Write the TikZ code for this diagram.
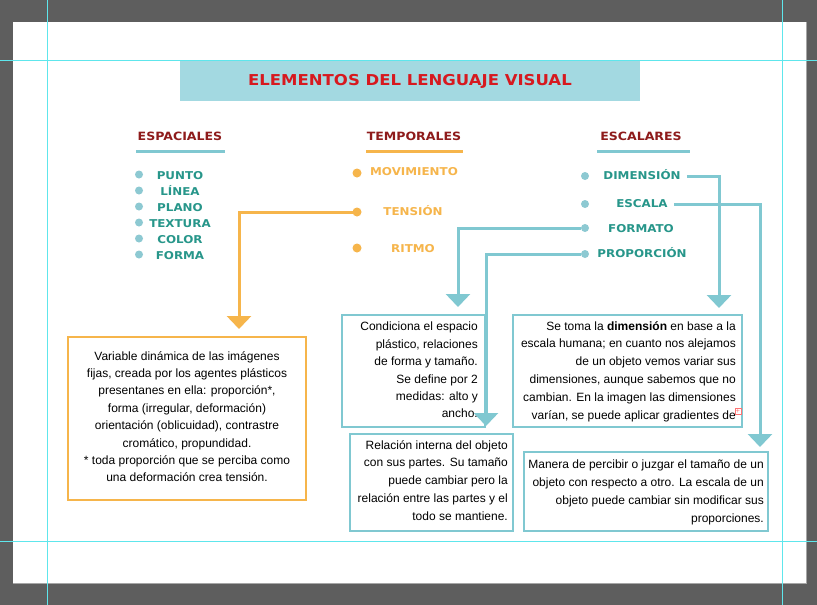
\documentclass[tikz,border=0pt]{standalone}
\usepackage{fontspec}
\setmainfont{Liberation Sans}
\newfontfamily\widebold{DejaVu Sans Bold}[FakeStretch=1.1]
\usetikzlibrary{arrows.meta}

\definecolor{deskgray}{HTML}{5E5E5E}
\definecolor{titlefill}{HTML}{A3D9E1}
\definecolor{titlered}{HTML}{D7191F}
\definecolor{headred}{HTML}{8E1B1B}
\definecolor{itemteal}{HTML}{27968A}
\definecolor{dotcyan}{HTML}{8DC9D2}
\definecolor{lineorange}{HTML}{F6B54B}
\definecolor{linecyan}{HTML}{80C8D1}
\definecolor{guidecyan}{HTML}{5EE6EC}

\begin{document}
\begin{tikzpicture}[x=1pt, y=-1pt,
        heading/.style={font=\widebold\fontsize{11.4}{12}\selectfont, text=headred, inner sep=0pt, text height=8.3pt, text depth=0pt},
        itemtext/.style={font=\widebold\fontsize{10.8}{12}\selectfont, inner sep=0pt, text height=7.9pt, text depth=0pt},
        cyandot/.style={circle, fill=dotcyan, inner sep=0pt, minimum size=8pt},
        orangedot/.style={circle, fill=lineorange, inner sep=0pt, minimum size=9pt},
        infobox/.style={draw=linecyan, line width=2pt, inner sep=0pt},
        infotext/.style={font=\fontsize{12}{17.8}\selectfont, align=right, inner sep=0pt, anchor=north east},
        cyanlink/.style={draw=linecyan, line width=3pt, -{Triangle[width=24pt,length=13pt]}},
        orangelink/.style={draw=lineorange, line width=3pt, -{Triangle[width=24pt,length=13pt]}}]

        \useasboundingbox (0,0) rectangle (817,605);

        % Desk and page
        \fill[deskgray] (0,0) rectangle (817,605);
        \fill[white] (13,22) rectangle (806,583);
        \draw[gray!70, line width=1pt] (13,583.5) -- (806.5,583.5) -- (806.5,22);

        % Title
        \node[fill=titlefill, minimum width=460pt, minimum height=41pt, inner sep=0pt,
              font=\widebold\fontsize{15}{16}\selectfont, text=titlered,
              text height=10.9pt, text depth=0pt] (title) at (410,80.5) {ELEMENTOS DEL LENGUAJE VISUAL};

        % Headings with their bars
        \node[heading] (espaciales) at (180,136) {ESPACIALES};
        \node[heading] (temporales) at (414,136) {TEMPORALES};
        \node[heading] (escalares) at (641,136) {ESCALARES};
        \draw[linecyan, line width=3pt] (136,151) -- (225,151);
        \draw[lineorange, line width=3pt] (366,151) -- (463,151);
        \draw[linecyan, line width=3pt] (597,151) -- (690,151);

        % Espaciales
        \foreach \word/\yy [count=\i] in {PUNTO/176, LÍNEA/192, PLANO/208, TEXTURA/224, COLOR/240, FORMA/256} {
            \node[cyandot] (espdot\i) at (139,\yy-1.5) {};
            \node[itemtext, text=itemteal] (esptxt\i) at (180,\yy) {\word};
        }

        % Temporales
        \node[orangedot] (movdot) at (357,173) {};
        \node[orangedot] (tensdot) at (357,212) {};
        \node[orangedot] (ritdot) at (357,248) {};
        \node[itemtext, text=lineorange] (movtxt) at (414,172) {MOVIMIENTO};
        \node[itemtext, text=lineorange] (tenstxt) at (413,212) {TENSIÓN};
        \node[itemtext, text=lineorange] (rittxt) at (413,249) {RITMO};

        % Escalares
        \node[cyandot] (dimdot) at (585,176) {};
        \node[cyandot] (escdot) at (585,204) {};
        \node[cyandot] (fmtdot) at (585,228) {};
        \node[cyandot] (propdot) at (585,254) {};
        \node[itemtext, text=itemteal] (dimtxt) at (642,176) {DIMENSIÓN};
        \node[itemtext, text=itemteal] (esctxt) at (642,204) {ESCALA};
        \node[itemtext, text=itemteal] (fmttxt) at (641,229) {FORMATO};
        \node[itemtext, text=itemteal] (proptxt) at (642,254) {PROPORCIÓN};

        % Boxes
        \node[draw=lineorange, line width=2pt, minimum width=238pt, minimum height=163pt, inner sep=0pt] (tensbox) at (187,418.5) {};
        \node[infobox, minimum width=143pt, minimum height=112pt] (fmtbox) at (413.5,371) {};
        \node[infobox, minimum width=163pt, minimum height=97pt] (propbox) at (431.5,482.5) {};
        \node[infobox, minimum width=229pt, minimum height=112pt] (dimbox) at (627.5,371) {};
        \node[infobox, minimum width=244pt, minimum height=79pt] (escbox) at (646,491.5) {};

        % Box texts
        \node[font=\fontsize{12}{17.4}\selectfont, align=center, inner sep=0pt, anchor=north] (tenstext)
            at ([yshift=-15pt]tensbox.north) {Variable dinámica de las imágenes\\ fijas, creada por los agentes plásticos\\ presentanes en ella: proporción*,\\ forma (irregular, deformación)\\ orientación (oblicuidad), contrastre\\ cromático, propundidad.\\ * toda proporción que se perciba como\\ una deformación crea tensión.};
        \node[infotext, font=\fontsize{12}{17.4}\selectfont] (fmttext) at ([xshift=-8pt,yshift=-8pt]fmtbox.north east)
            {Condiciona el espacio\\ plástico, relaciones\\ de forma y tamaño.\\ Se define por 2\\ medidas: alto y\\ ancho.};
        \node[infotext] (proptext) at ([xshift=-6pt,yshift=-7pt]propbox.north east)
            {Relación interna del objeto\\ con sus partes. Su tamaño\\ puede cambiar pero la\\ relación entre las partes y el\\ todo se mantiene.};
        \node[infotext] (dimtext) at ([xshift=-7pt,yshift=-7pt]dimbox.north east)
            {Se toma la \textbf{dimensión} en base a la\\ escala humana; en cuanto nos alejamos\\ de un objeto vemos variar sus\\ dimensiones, aunque sabemos que no\\ cambian. En la imagen las dimensiones\\ varían, se puede aplicar gradientes de};
        \node[infotext] (esctext) at ([xshift=-5pt,yshift=-9pt]escbox.north east)
            {Manera de percibir o juzgar el tamaño de un\\ objeto con respecto a otro. La escala de un\\ objeto puede cambiar sin modificar sus\\ proporciones.};
        \node[draw=red!55, fill=white, line width=0.5pt, inner sep=0pt, minimum size=6.5pt, text=red!55,
              font=\fontsize{7}{7}\selectfont] (overflow) at (738,411) {+};

        % Connectors
        \draw[orangelink, shorten >=7pt] (tensdot.center) -| ([xshift=52pt]tensbox.north);
        \draw[cyanlink, shorten >=7pt] (fmtdot.west) -| ([xshift=44.5pt]fmtbox.north);
        \draw[cyanlink, shorten >=7pt] (propdot.west) -| ([xshift=54.5pt]propbox.north);
        \draw[cyanlink, shorten >=6pt] ([xshift=6pt]dimtxt.east) -| ([xshift=91.5pt]dimbox.north);
        \draw[cyanlink, shorten >=4pt] ([xshift=6pt]esctxt.east) -| ([xshift=114pt]escbox.north);

        % Guides
        \draw[guidecyan, line width=1pt] (47,0) -- (47,605);
        \draw[guidecyan, line width=1pt] (782,0) -- (782,605);
        \draw[guidecyan, line width=1pt] (0,60) -- (817,60);
        \draw[guidecyan, line width=1pt] (0,541) -- (817,541);
\end{tikzpicture}
\end{document}
